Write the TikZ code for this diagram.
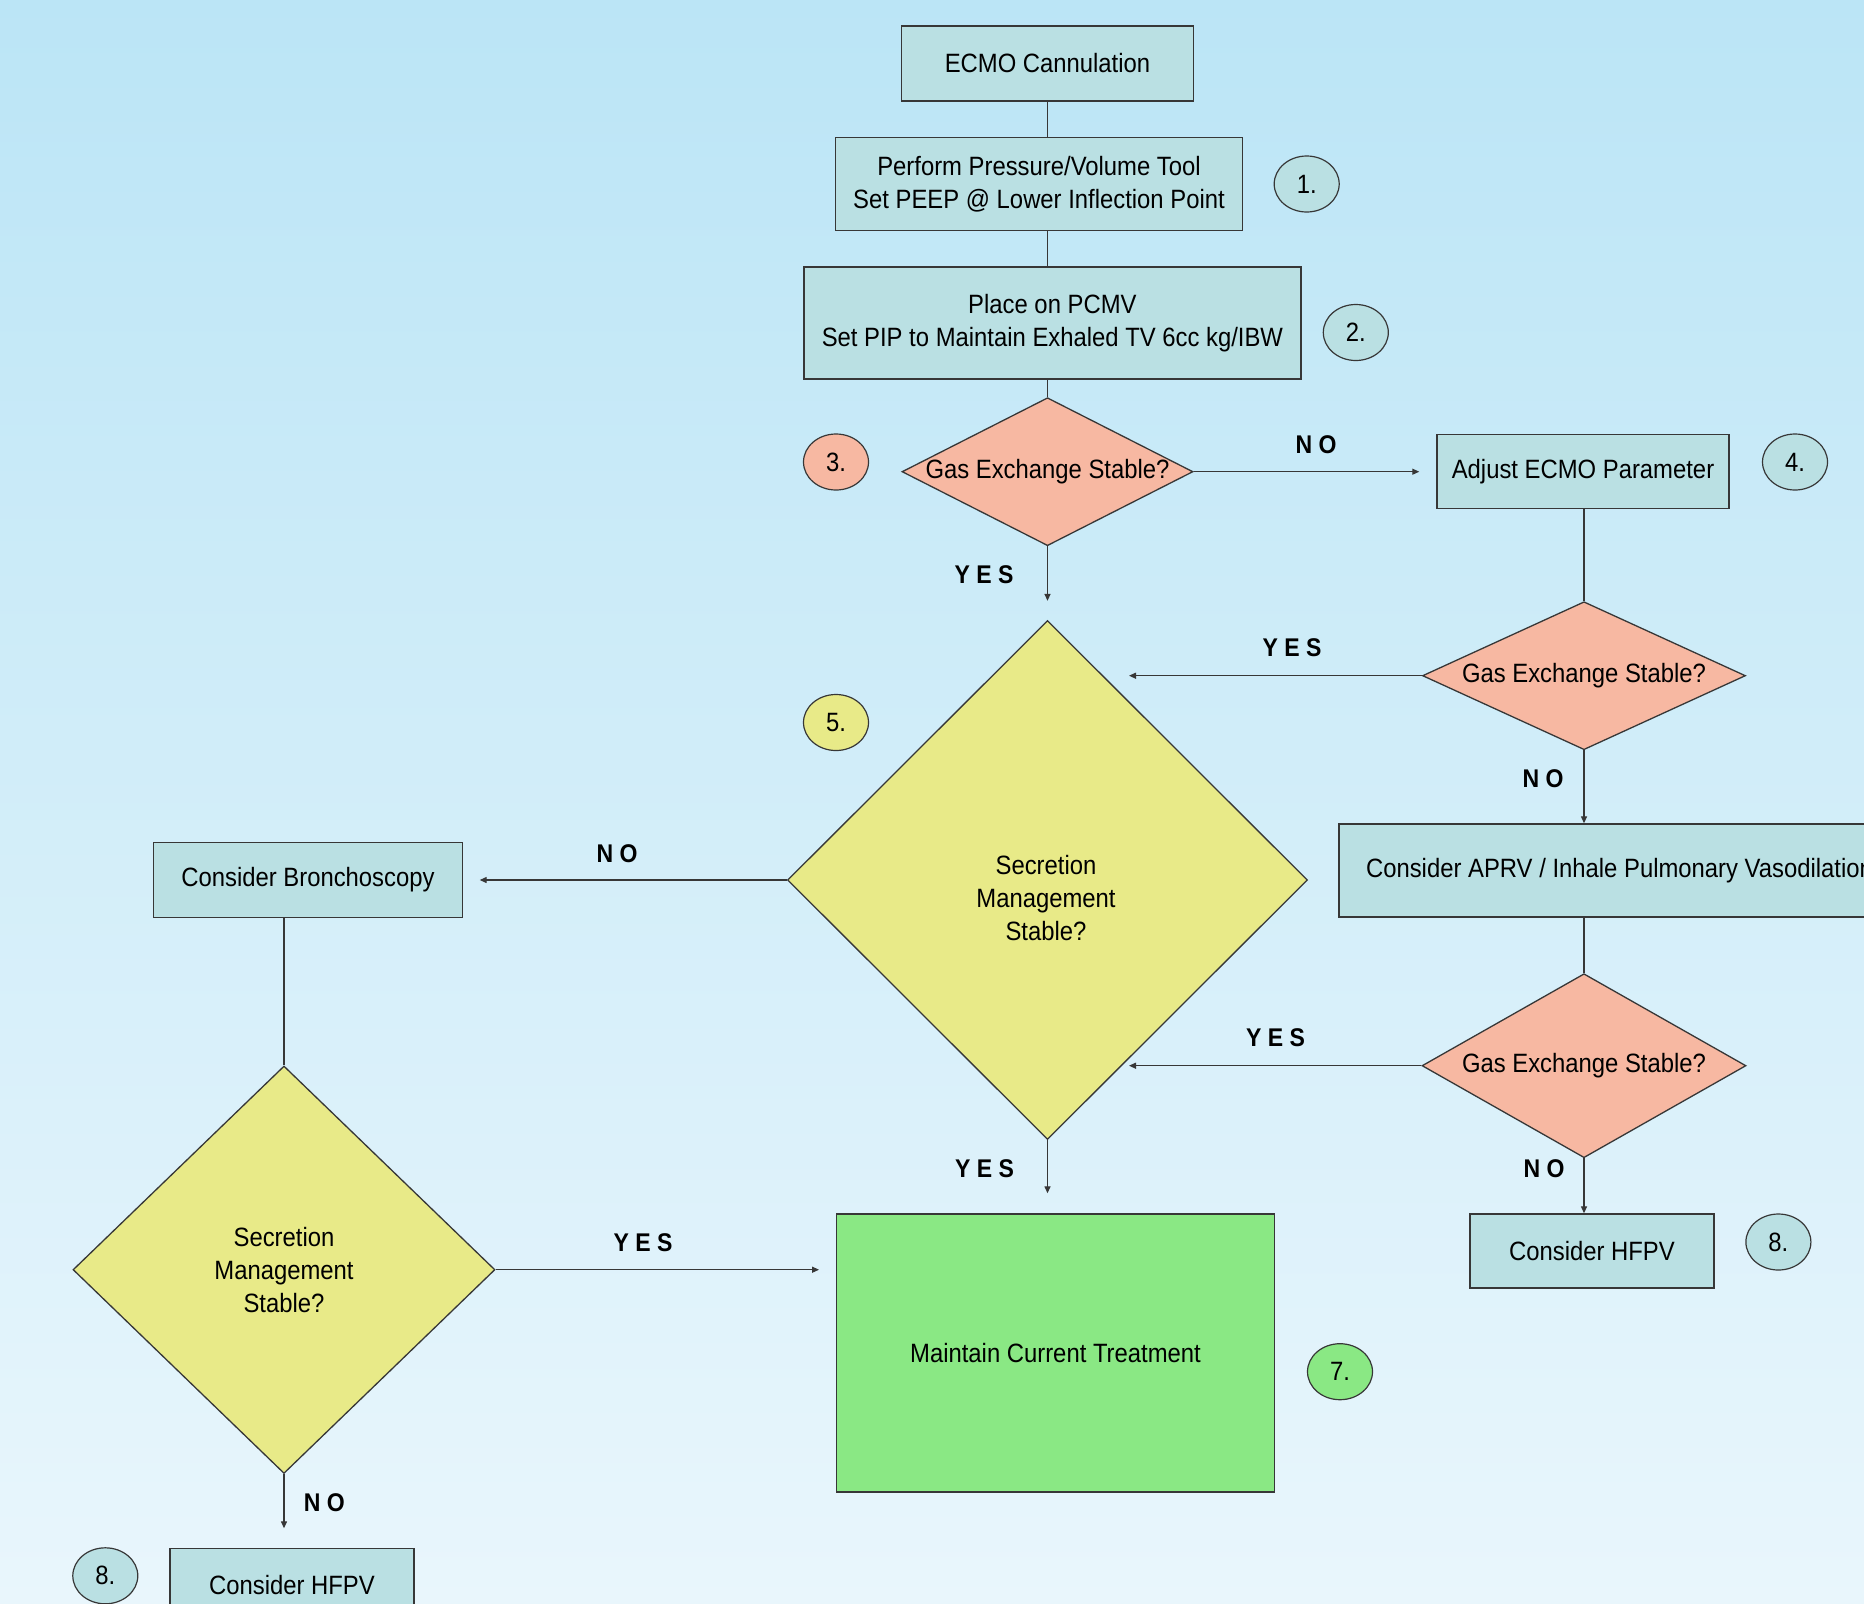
\documentclass[tikz,border=0pt]{standalone}
\usepackage{fontspec}
\setmainfont[FakeStretch=0.9]{Liberation Sans}
\usetikzlibrary{shapes.geometric,arrows.meta}
\definecolor{boxc}{RGB}{186,224,227}
\definecolor{salm}{RGB}{247,184,162}
\definecolor{yel}{RGB}{232,234,136}
\definecolor{grn}{RGB}{138,232,132}
\definecolor{bgtop}{RGB}{187,229,246}
\definecolor{bgmid}{RGB}{210,238,249}
\definecolor{bgbot}{RGB}{233,246,252}
\definecolor{linec}{RGB}{55,55,55}
\begin{document}
\begin{tikzpicture}[x=1pt,y=-1pt,
  every node/.style={font=\fontsize{26.5}{33}\selectfont,text=black},
  box/.style={rectangle,draw=linec,line width=1.4pt,fill=boxc,inner sep=0pt,align=center},
  dia/.style={diamond,draw=linec,line width=1.3pt,inner sep=0pt,aspect=1},
  num/.style={ellipse,draw=linec,line width=1.2pt,minimum width=65pt,minimum height=56pt,inner sep=0pt},
  lab/.style={font=\fontsize{25.6}{30}\selectfont\bfseries,inner sep=0pt},
  conn/.style={draw=linec,line width=1.3pt},
  arr/.style={draw=linec,line width=1.3pt,-{Triangle[length=7pt,width=6pt]}}
]
\useasboundingbox (0,0) rectangle (1864,1604);
\shade[top color=bgtop,middle color=bgmid,bottom color=bgbot] (0,0) rectangle (1864,1604);
\begin{scope}
\clip (0,0) rectangle (1864,1604);

% boxes
\node[box,minimum width=292pt,minimum height=75pt] (ecmo) at (1047.5,63.5) {ECMO Cannulation};
\node[box,minimum width=407pt,minimum height=93pt] (perf) at (1039,183.8) {Perform Pressure/Volume Tool\\Set PEEP @ Lower Inflection Point};
\node[box,minimum width=497pt,minimum height=112pt] (place) at (1052.4,323) {Place on PCMV\\Set PIP to Maintain Exhaled TV 6cc kg/IBW};
\node[box,minimum width=292pt,minimum height=74pt] (adj) at (1583,471.5) {Adjust ECMO Parameter};
\node[box,minimum width=561pt,minimum height=93pt] (aprv) at (1619.5,870.5) {Consider APRV / Inhale Pulmonary Vasodilation};
\node[box,minimum width=244pt,minimum height=74pt] (hfpvR) at (1592,1251) {Consider HFPV};
\node[box,minimum width=309pt,minimum height=75pt] (bron) at (308,880) {Consider Bronchoscopy};
\node[box,minimum width=244pt,minimum height=74pt] (hfpvL) at (292,1585.5) {Consider HFPV};
\node[box,fill=grn,minimum width=438.5pt,minimum height=278pt] (green) at (1055.5,1353) {Maintain Current Treatment};

% diamonds
\node[dia,fill=salm,minimum width=291pt,minimum height=148pt] (d3) at (1047.5,471.7) {\makebox[0pt]{Gas Exchange Stable?}};
\node[dia,fill=salm,minimum width=323pt,minimum height=148pt] (d4) at (1584,675.7) {\makebox[0pt]{Gas Exchange Stable?}};
\node[dia,fill=salm,minimum width=324pt,minimum height=184pt] (d6) at (1584,1065.7) {\makebox[0pt]{Gas Exchange Stable?}};
\node[dia,fill=yel,minimum width=520pt,minimum height=519pt] (d5) at (1047.5,880) {};
\node[align=center,inner sep=0pt] (d5t) at (1046,897.6) {Secretion\\Management\\Stable?};
\node[dia,fill=yel,minimum width=422pt,minimum height=407.5pt,align=center] (dL) at (284,1269.7) {Secretion\\Management\\Stable?};

% numbered circles
\node[num,fill=boxc] (c1) at (1306.7,184) {1.};
\node[num,fill=boxc] (c2) at (1355.8,332.5) {2.};
\node[num,fill=salm] (c3) at (836,462) {3.};
\node[num,fill=boxc] (c4) at (1795,462) {4.};
\node[num,fill=yel] (c5) at (836,722.5) {5.};
\node[num,fill=grn] (c7) at (1340,1371.7) {7.};
\node[num,fill=boxc] (c8r) at (1778.4,1242) {8.};
\node[num,fill=boxc] (c8l) at (105.3,1575.8) {8.};

% free ends
\coordinate (p1) at (1129,675.7);
\coordinate (p2) at (1129,1065.7);

% connectors
\draw[conn] (ecmo.south) -- (ecmo.south |- perf.north);
\draw[conn] (ecmo.south |- perf.south) -- (ecmo.south |- place.north);
\draw[conn] (d3.north |- place.south) -- (d3.north);
\draw[arr,shorten >=17pt] (d3.east) -- (d3.east -| adj.west);
\draw[arr,shorten >=19pt] (d3.south) -- (d5.north);
\draw[conn] (d4.north |- adj.south) -- (d4.north);
\draw[arr] (d4.west) -- (p1);
\draw[arr] (d4.south) -- (d4.south |- aprv.north);
\draw[conn] (d6.north |- aprv.south) -- (d6.north);
\draw[arr] (d6.west) -- (p2);
\draw[arr] (d6.south) -- (d6.south |- hfpvR.north);
\draw[arr,shorten >=16.5pt] (d5.west) -- (d5.west -| bron.east);
\draw[conn] (dL.north |- bron.south) -- (dL.north);
\draw[arr,shorten >=16.5pt] (dL.east) -- (dL.east -| green.west);
\draw[arr,shorten >=20pt] (d5.south) -- (d5.south |- green.north);
\draw[arr,shorten >=19.5pt] (dL.south) -- (dL.south |- hfpvL.north);

% labels
\node[lab] (l1) at (1316,445) {N O};
\node[lab] (l2) at (984,575) {Y E S};
\node[lab] (l3) at (1292,648) {Y E S};
\node[lab] (l4) at (1543,778.6) {N O};
\node[lab] (l5) at (1275.6,1037.8) {Y E S};
\node[lab] (l6) at (1544,1168.3) {N O};
\node[lab] (l7) at (617,853.5) {N O};
\node[lab] (l8) at (643,1242.5) {Y E S};
\node[lab] (l9) at (984.5,1168.3) {Y E S};
\node[lab] (l10) at (324.3,1502.5) {N O};
\end{scope}
\end{tikzpicture}
\end{document}
